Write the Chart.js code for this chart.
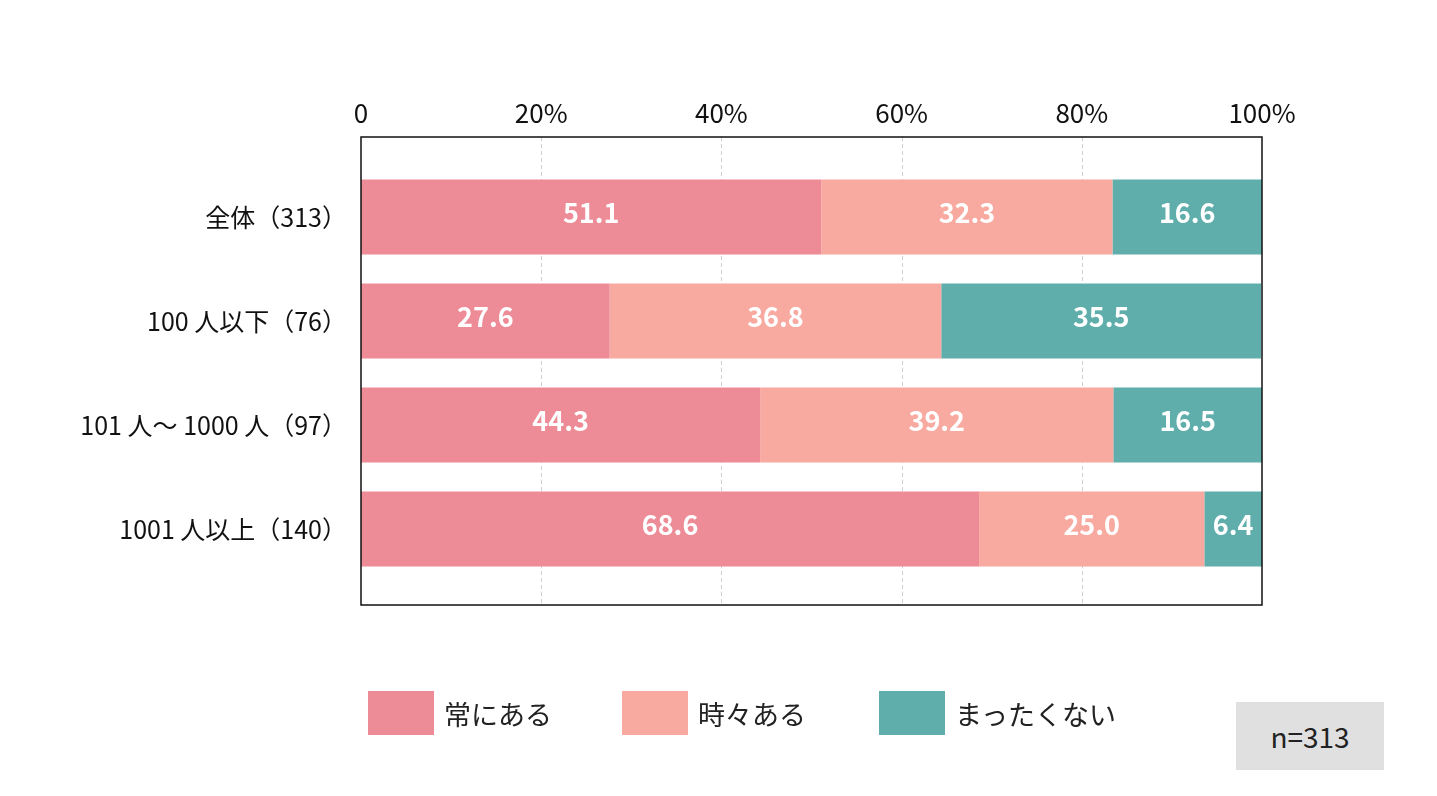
<!DOCTYPE html>
<html><head><meta charset="utf-8">
<script src="https://cdn.jsdelivr.net/npm/chart.js@4/dist/chart.umd.min.js"></script>
<style>
body{margin:0;background:#fff;font-family:"Noto Sans CJK JP",sans-serif}
#wrap{position:absolute;left:0;top:0;width:1437px;height:796px}
.leg{position:absolute;top:690px;height:46px;display:flex;align-items:center;font-size:27px;color:#222}
.leg span{display:inline-block;width:66px;height:44px;margin-right:10px}
#n{position:absolute;left:1236px;top:702px;width:148px;height:68px;background:#e0e0e0;font-size:28px;display:flex;align-items:center;justify-content:center;color:#222}
</style></head><body>
<div id="wrap"><canvas id="c" width="1437" height="796"></canvas></div>
<div class="leg" style="left:368px"><span style="background:#ED8B97"></span>常にある</div>
<div class="leg" style="left:622px"><span style="background:#F8A9A0"></span>時々ある</div>
<div class="leg" style="left:879px"><span style="background:#5FAEAB"></span>まったくない</div>
<div id="n">n=313</div>
<script>
const categories = ['全体（313）', '100 人以下（76）', '101 人～ 1000 人（97）', '1001 人以上（140）'];
const always = [51.1, 27.6, 44.3, 68.6];
const sometimes = [32.3, 36.8, 39.2, 25.0];
const never = [16.6, 35.5, 16.5, 6.4];
const seriesNames = ['常にある', '時々ある', 'まったくない'];
const colors = ['#ED8B97', '#F8A9A0', '#5FAEAB'];
const tickLabels = ['0', '20%', '40%', '60%', '80%', '100%'];

const frame = {
  id: 'frame',
  beforeDatasetsDraw(chart) {
    const ctx = chart.ctx, x = chart.scales.x, a = chart.chartArea;
    const top = 137, bottom = 605;
    ctx.save();
    ctx.strokeStyle = '#cfcfcf'; ctx.lineWidth = 1; ctx.setLineDash([4, 3]);
    for (let v = 20; v < 100; v += 20) {
      const px = Math.round(x.getPixelForValue(v)) + 0.5;
      ctx.beginPath(); ctx.moveTo(px, top); ctx.lineTo(px, bottom); ctx.stroke();
    }
    ctx.restore();
  },
  afterDatasetsDraw(chart) {
    const ctx = chart.ctx, x = chart.scales.x;
    const l = x.getPixelForValue(0), r = x.getPixelForValue(100);
    ctx.save();
    ctx.strokeStyle = '#111'; ctx.lineWidth = 1.5;
    ctx.strokeRect(l, 137, r - l, 468);
    ctx.font = 'bold 27px "Noto Sans CJK JP"';
    ctx.fillStyle = '#fff'; ctx.textAlign = 'center'; ctx.textBaseline = 'middle';
    chart.data.datasets.forEach((ds, i) => {
      chart.getDatasetMeta(i).data.forEach((bar, j) => {
        const cx = (bar.x + bar.base) / 2;
        ctx.fillText(ds.data[j].toFixed(1), cx, bar.y - 4);
      });
    });
    ctx.restore();
  }
};

new Chart(document.getElementById('c'), {
  type: 'bar',
  data: {
    labels: categories,
    datasets: [always, sometimes, never].map((d, i) => ({
      label: seriesNames[i], data: d, backgroundColor: colors[i],
      barPercentage: 0.72, categoryPercentage: 1
    }))
  },
  options: {
    indexAxis: 'y', responsive: false, animation: false,
    layout: { padding: { top: 0, bottom: 215, left: 0, right: 175 } },
    plugins: { legend: { display: false }, tooltip: { enabled: false } },
    scales: {
      x: {
        position: 'top', stacked: true, min: 0, max: 100,
        grid: { display: false, drawTicks: false }, border: { display: false },
        afterFit(s) { s.height = 165; },
        ticks: { stepSize: 20, padding: 36, color: '#111', font: { size: 26, family: 'Noto Sans CJK JP' },
          callback: (v, i) => tickLabels[i] }
      },
      y: {
        stacked: true,
        grid: { display: false, drawTicks: false }, border: { display: false },
        afterFit(s) { s.width = 361; },
        ticks: { padding: 14, color: '#111', font: { size: 25, family: 'Noto Sans CJK JP' } }
      }
    }
  },
  plugins: [frame]
});
</script>
</body></html>
